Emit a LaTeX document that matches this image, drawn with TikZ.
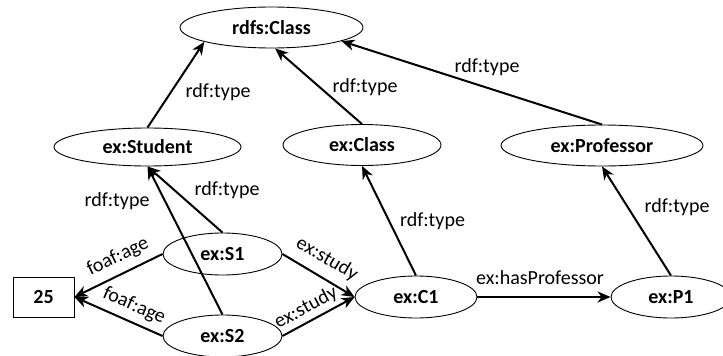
\documentclass[tikz,border=0pt]{standalone}
\usepackage{fontspec}
\setmainfont{Carlito}
\usetikzlibrary{shapes.geometric,arrows.meta}

\begin{document}
\begin{tikzpicture}[x=1pt,y=-1pt,
  res/.style={ellipse,draw,line width=0.9pt,inner sep=0pt,
    font=\fontsize{20}{24}\selectfont\bfseries},
  lit/.style={rectangle,draw,line width=0.9pt,inner sep=0pt,
    minimum width=61pt,minimum height=40pt,
    font=\fontsize{20}{24}\selectfont\bfseries},
  lbl/.style={inner sep=0pt,font=\fontsize{20}{24}\selectfont},
  rel/.style={line width=2pt,-{Stealth[length=13pt,width=11pt,inset=4pt]}}]

\useasboundingbox (0,0) rectangle (723,356);

% resources and the literal
\node[res,minimum width=183pt,minimum height=41pt] (rdfs) at (271.5,27.5) {rdfs:Class};
\node[res,minimum width=187pt,minimum height=38pt] (student) at (147.5,147) {ex:Student};
\node[res,minimum width=158pt,minimum height=41pt] (exclass) at (362,145) {ex:Class};
\node[res,minimum width=202pt,minimum height=41pt] (prof) at (602,145.5) {ex:Professor};
\node[res,minimum width=119pt,minimum height=42pt] (s1) at (222.5,254) {ex:S1};
\node[res,minimum width=119pt,minimum height=42pt] (s2) at (222.5,336) {ex:S2};
\node[res,minimum width=122pt,minimum height=42pt] (c1) at (416,297) {ex:C1};
\node[res,minimum width=120pt,minimum height=42pt] (p1) at (671,297) {ex:P1};
\node[lit] (age) at (43.5,297) {25};

% triples
\draw[rel] (student.north) -- (rdfs.192);
\draw[rel] (exclass.north) -- (rdfs.280);
\draw[rel] (prof.north) -- (rdfs.349);
\draw[rel] (s1.north) -- (student.south);
\draw[rel] (s2.north) -- (student.south);
\draw[rel] (s1.west) -- (age.east);
\draw[rel] (s2.west) -- (age.east);
\draw[rel] (s1.east) -- (c1.west);
\draw[rel] (s2.east) -- (c1.west);
\draw[rel] (c1.north) -- (exclass.south);
\draw[rel] (p1.north) -- (prof.south);
\draw[rel] (c1.east) -- (p1.west);

% predicate labels
\node[lbl] (t1) at (218,92) {rdf:type};
\node[lbl] (t2) at (365,87) {rdf:type};
\node[lbl] (t3) at (487,67) {rdf:type};
\node[lbl] (t4) at (227,190) {rdf:type};
\node[lbl] (t5) at (117,201) {rdf:type};
\node[lbl] (t6) at (432.5,221) {rdf:type};
\node[lbl] (t7) at (677,207) {rdf:type};
\node[lbl,rotate=25.8] (a1) at (118,257) {foaf:age};
\node[lbl,rotate=-23.7] (a2) at (134,306) {foaf:age};
\node[lbl,rotate=-30.5] (st1) at (327,259) {ex:study};
\node[lbl,rotate=28] (st2) at (306,308) {ex:study};
\node[lbl] (hp) at (540,278) {ex:hasProfessor};
\end{tikzpicture}
\end{document}
